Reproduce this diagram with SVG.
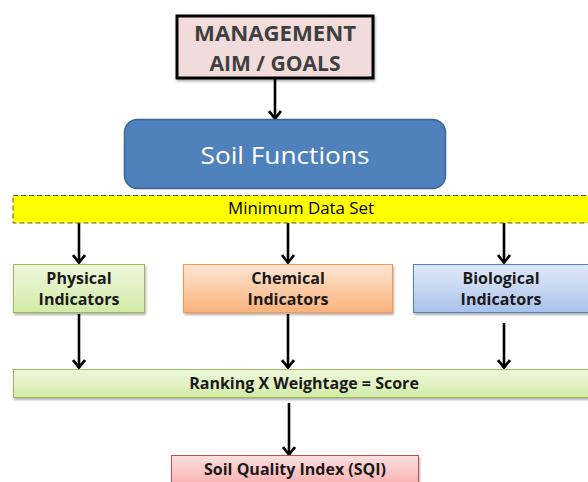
<svg xmlns="http://www.w3.org/2000/svg" width="588" height="482" viewBox="0 0 588 482">
<defs>
<linearGradient id="gGreen" x1="0" y1="0" x2="0" y2="1"><stop offset="0" stop-color="#edf7dc"/><stop offset="0.5" stop-color="#e1f2c2"/><stop offset="1" stop-color="#d1eba5"/></linearGradient>
<linearGradient id="gOrange" x1="0" y1="0" x2="0" y2="1"><stop offset="0" stop-color="#fde6d4"/><stop offset="0.5" stop-color="#fccca6"/><stop offset="1" stop-color="#fab17c"/></linearGradient>
<linearGradient id="gBlue" x1="0" y1="0" x2="0" y2="1"><stop offset="0" stop-color="#e1e9f8"/><stop offset="0.5" stop-color="#c7d7f2"/><stop offset="1" stop-color="#a8c1eb"/></linearGradient>
<linearGradient id="gRed" x1="0" y1="0" x2="0" y2="1"><stop offset="0" stop-color="#fde0e0"/><stop offset="0.5" stop-color="#fbc6c6"/><stop offset="1" stop-color="#f7adad"/></linearGradient>
<filter id="sh" x="-10%" y="-20%" width="120%" height="150%"><feDropShadow dx="1" dy="2" stdDeviation="1.2" flood-color="#000" flood-opacity="0.3"/></filter>
<marker id="ah" viewBox="0 0 10 14" refX="9" refY="7" markerWidth="10" markerHeight="14" markerUnits="userSpaceOnUse" orient="auto">
<path d="M1,1 L8.5,7 L1,13" fill="none" stroke="#000" stroke-width="2.8"/>
</marker>
</defs>
<style>
.b{font-family:"Open Sans","Liberation Sans",sans-serif;font-weight:bold;font-size:16px;fill:#1a1a1a;text-anchor:middle}
.c{stroke:#000;stroke-width:2.6;fill:none;marker-end:url(#ah)}
</style>
<g id="connectors">
<line class="c" x1="275" y1="79" x2="275" y2="119"/>
<line class="c" x1="79" y1="223" x2="79" y2="263"/>
<line class="c" x1="288" y1="223" x2="288" y2="263"/>
<line class="c" x1="504" y1="223" x2="504" y2="263"/>
<line class="c" x1="79" y1="314" x2="79" y2="368"/>
<line class="c" x1="288" y1="314" x2="288" y2="368"/>
<line class="c" x1="504" y1="323" x2="504" y2="368"/>
<line class="c" x1="289" y1="403" x2="289" y2="455"/>
</g>
<g id="management">
<rect x="177" y="16" width="196" height="62" fill="#f2dcdb" stroke="#000" stroke-width="3" filter="url(#sh)"/>
<text x="275" y="41" class="b" style="font-size:21px;fill:#3f3f3f" textLength="162" lengthAdjust="spacingAndGlyphs">MANAGEMENT</text>
<text x="275" y="71" class="b" style="font-size:21px;fill:#3f3f3f" textLength="131" lengthAdjust="spacingAndGlyphs">AIM / GOALS</text>
</g>
<g id="soil-functions">
<rect x="124.5" y="119.5" width="321" height="69" rx="13" fill="#4f81bd" stroke="#3a6596" stroke-width="1.5"/>
<text x="285" y="164" style="font-family:'Open Sans','Liberation Sans',sans-serif;font-size:24.5px;fill:#fff;text-anchor:middle" textLength="169" lengthAdjust="spacingAndGlyphs">Soil Functions</text>
</g>
<g id="minimum-data-set">
<rect x="13" y="195.5" width="580" height="27.5" fill="#ffff00" stroke="#5b5b36" stroke-width="1" stroke-dasharray="5,3"/>
<text x="301" y="214" style="font-family:'Open Sans','Liberation Sans',sans-serif;font-size:16px;fill:#000;text-anchor:middle" textLength="146" lengthAdjust="spacingAndGlyphs">Minimum Data Set</text>
</g>
<g id="physical">
<rect x="13.5" y="264.5" width="131" height="48" fill="url(#gGreen)" stroke="#9bbb59" stroke-width="1" filter="url(#sh)"/>
<text x="79" y="284" class="b">Physical</text>
<text x="79" y="305" class="b">Indicators</text>
</g>
<g id="chemical">
<rect x="183.5" y="264.5" width="209" height="48" fill="url(#gOrange)" stroke="#f79646" stroke-width="1" filter="url(#sh)"/>
<text x="288" y="284" class="b">Chemical</text>
<text x="288" y="305" class="b">Indicators</text>
</g>
<g id="biological">
<rect x="413.5" y="264.5" width="176" height="48" fill="url(#gBlue)" stroke="#4f81bd" stroke-width="1" filter="url(#sh)"/>
<text x="501" y="284" class="b">Biological</text>
<text x="501" y="305" class="b">Indicators</text>
</g>
<g id="ranking">
<rect x="13.5" y="369.5" width="580" height="28" fill="url(#gGreen)" stroke="#9bbb59" stroke-width="1" filter="url(#sh)"/>
<text x="304" y="389" class="b">Ranking X Weightage = Score</text>
</g>
<g id="sqi">
<rect x="171.5" y="455.5" width="247" height="32" fill="url(#gRed)" stroke="#c0504d" stroke-width="1" filter="url(#sh)"/>
<text x="295" y="475" class="b">Soil Quality Index (SQI)</text>
</g>
</svg>
